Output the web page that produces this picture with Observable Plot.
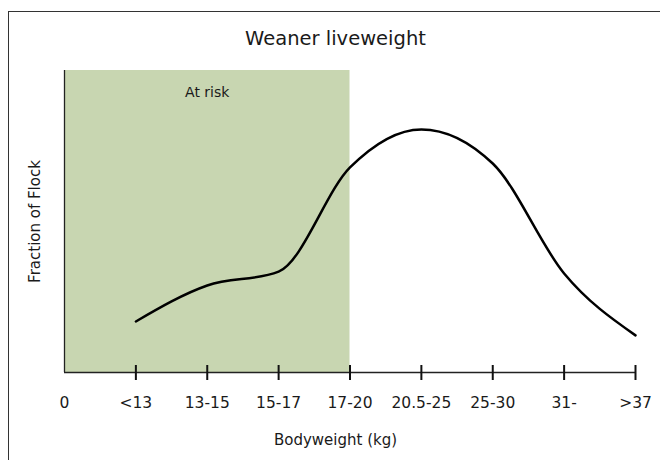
<!DOCTYPE html>
<html>
<head>
<meta charset="utf-8">
<script src="https://cdn.jsdelivr.net/npm/d3@7"></script>
<script src="https://cdn.jsdelivr.net/npm/@observablehq/plot@0.6"></script>
<style>
  html, body { margin: 0; padding: 0; background: #fff; overflow: hidden; }
  #wrap { position: relative; width: 660px; height: 460px; font-family: "DejaVu Sans", sans-serif; }
  #frame { position: absolute; left: 8px; top: 11px; width: 700px; height: 500px; border: 1px solid #333; pointer-events: none; }
</style>
</head>
<body>
<div id="wrap"><div id="frame"></div></div>
<script>
const categories = ["0", "<13", "13-15", "15-17", "17-20", "20.5-25", "25-30", "31-", ">37"];
const curveCategories = ["<13", "13-15", "15-17", "17-20", "20.5-25", "25-30", "31-", ">37"];
const fractionValues = [16.9, 28.8, 33.4, 67.9, 80.5, 69.2, 32.8, 12.3];
const riskStart = "0";
const riskEnd = "17-20";
const riskLabel = "At risk";
const title = "Weaner liveweight";
const xTitle = "Bodyweight (kg)";
const yTitle = "Fraction of Flock";
const yMax = 100;

const idx = (c) => categories.indexOf(c);
const curveData = curveCategories.map((c, i) => ({x: idx(c), y: fractionValues[i]}));
const tickPositions = curveCategories.map(idx);

const chart = Plot.plot({
  width: 660,
  height: 460,
  marginLeft: 64,
  marginRight: 25,
  marginTop: 70,
  marginBottom: 88,
  style: {fontFamily: "'DejaVu Sans', sans-serif", background: "transparent", color: "#1a1a1a"},
  x: {type: "linear", domain: [0, categories.length - 1]},
  y: {domain: [0, yMax], axis: null},
  marks: [
    Plot.rect([{x1: idx(riskStart), x2: idx(riskEnd), y1: 0, y2: yMax}], {x1: "x1", x2: "x2", y1: "y1", y2: "y2", fill: "#c8d6b1"}),
    Plot.text([riskLabel], {x: (idx(riskStart) + idx(riskEnd)) / 2, y: yMax, dy: 22, fontSize: 14, fill: "#1a1a1a"}),
    Plot.ruleX([0], {y1: 0, y2: yMax, stroke: "#222", strokeWidth: 1.3}),
    Plot.ruleY([0], {x1: 0, x2: categories.length - 1, stroke: "#222", strokeWidth: 1.3}),
    Plot.ruleX(tickPositions, {x: d => d, y1: 0, y2: 0, insetTop: -7, insetBottom: -8, stroke: "#111", strokeWidth: 2}),
    Plot.axisX({
      ticks: d3.range(categories.length),
      tickFormat: (d) => categories[d],
      tickSize: 0,
      tickPadding: 24,
      fontSize: 15.5,
      label: null
    }),
    Plot.line(curveData, {x: "x", y: "y", curve: "monotone-x", stroke: "#000", strokeWidth: 2.5}),
    Plot.text([title], {frameAnchor: "top", lineAnchor: "middle", textAnchor: "middle", dy: -32, dx: -14.5, fontSize: 19.5, fill: "#1a1a1a"}),
    Plot.text([xTitle], {frameAnchor: "bottom", lineAnchor: "middle", textAnchor: "middle", dy: 68, dx: -14.5, fontSize: 15, fill: "#1a1a1a"}),
    Plot.text([yTitle], {frameAnchor: "left", lineAnchor: "middle", textAnchor: "middle", dx: -29, rotate: -90, fontSize: 15, fill: "#1a1a1a"})
  ]
});
chart.style.position = "absolute";
chart.style.left = "0px";
chart.style.top = "0px";
document.getElementById("wrap").prepend(chart);
</script>
</body>
</html>
